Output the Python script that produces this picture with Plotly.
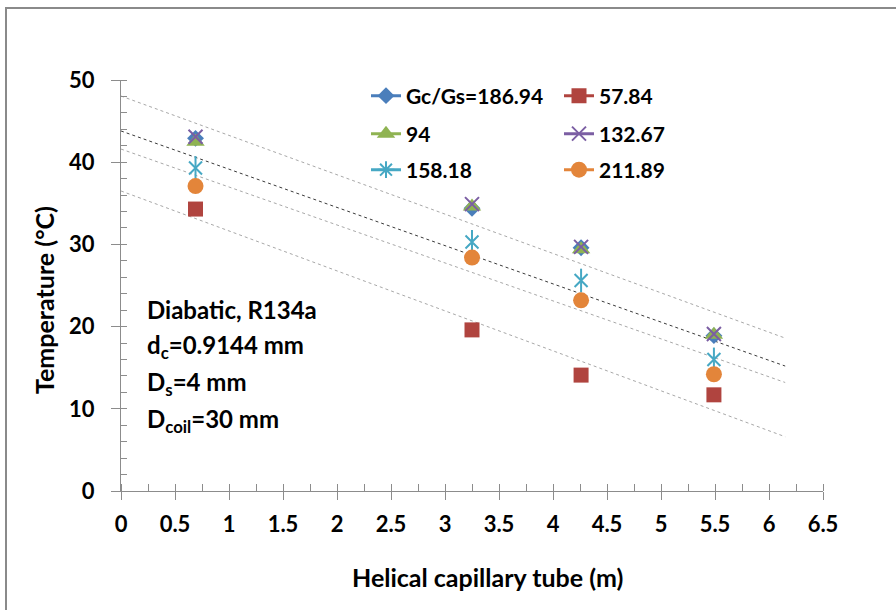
import plotly.graph_objects as go

# Capillary length positions of the measuring points (m)
length_m = [0.69, 3.25, 4.26, 5.49]

# Measured temperatures (°C) for each Gc/Gs ratio
t_186_94 = [42.9, 34.4, 29.6, 18.9]
t_57_84 = [34.3, 19.6, 14.1, 11.7]
t_94 = [42.5, 34.6, 29.4, 19.0]
t_132_67 = [43.1, 34.9, 29.7, 19.1]
t_158_18 = [39.3, 30.3, 25.6, 16.0]
t_211_89 = [37.1, 28.4, 23.2, 14.2]

series_names = ["Gc/Gs=186.94", "57.84", "94", "132.67", "158.18", "211.89"]

# Straight reference lines (start / end values)
fit_x = [0, 6.15]
fit_upper = [48.05, 18.6]
fit_center = [43.8, 15.2]
fit_mid = [41.6, 13.2]
fit_lower = [36.5, 6.6]

FONT = "Lato, 'Open Sans', sans-serif"
FS = 21
AXIS_GREY = "#8c8c8c"

C_BLUE = "#4A7EBB"
C_RED = "#B0443F"
C_GREEN = "#8FB352"
C_PURPLE = "#7B5EA3"
C_AQUA = "#46A8C4"
C_ORANGE = "#E3853A"


def bold(size):
    return dict(family=FONT, size=size, color="black", weight="bold")


fig = go.Figure()

# reference lines
for yy, col in [(fit_upper, "#a8a8a8"), (fit_center, "#3a3a3a"),
                (fit_mid, "#a8a8a8"), (fit_lower, "#a8a8a8")]:
    fig.add_trace(go.Scatter(x=fit_x, y=yy, mode="lines", showlegend=False,
                             hoverinfo="skip",
                             line=dict(color=col, width=1, dash="dot")))

series = [
    (t_186_94, C_BLUE, dict(symbol="diamond", size=13, color=C_BLUE)),
    (t_57_84, C_RED, dict(symbol="square", size=15, color=C_RED)),
    (t_94, C_GREEN, dict(symbol="triangle-up", size=16, color=C_GREEN)),
    (t_132_67, C_PURPLE, dict(symbol="x-thin", size=14, color=C_PURPLE,
                              line=dict(color=C_PURPLE, width=2))),
    (t_158_18, C_AQUA, dict(symbol="x-thin", size=13, color=C_AQUA,
                            line=dict(color=C_AQUA, width=2))),
    (t_211_89, C_ORANGE, dict(symbol="circle", size=16, color=C_ORANGE)),
]

legend_ids = ["legend", "legend", "legend2", "legend2", "legend3", "legend3"]

for i, (vals, col, mk) in enumerate(series):
    fig.add_trace(go.Scatter(x=length_m, y=vals, mode="markers", name=series_names[i],
                             marker=mk, showlegend=False))
    if i == 4:
        # vertical stroke completing the star marker
        fig.add_trace(go.Scatter(x=length_m, y=vals, mode="markers", showlegend=False,
                                 hoverinfo="skip",
                                 marker=dict(symbol="line-ns", size=17, color=col,
                                             line=dict(color=col, width=2))))

# legend entries (line + marker)
for i, (vals, col, mk) in enumerate(series):
    lmk = dict(mk)
    if i == 4:
        lmk = dict(symbol="asterisk", size=14, color=col, line=dict(color=col, width=2))
    fig.add_trace(go.Scatter(x=[None], y=[None], mode="lines+markers", name=series_names[i],
                             line=dict(color=col, width=3), marker=lmk,
                             legend=legend_ids[i]))

legend_common = dict(orientation="h", xref="container", yref="container",
                     xanchor="left", yanchor="middle", bgcolor="rgba(0,0,0,0)",
                     font=bold(FS), entrywidth=148, entrywidthmode="pixels",
                     itemwidth=30, tracegroupgap=0)

fig.update_layout(
    width=896, height=610,
    margin=dict(l=121, r=73, t=80, b=119, autoexpand=False),
    plot_bgcolor="white", paper_bgcolor="white",
    font=bold(FS),
    legend=dict(legend_common, x=366 / 896, y=1 - 96 / 610),
    legend2=dict(legend_common, x=366 / 896, y=1 - 134 / 610),
    legend3=dict(legend_common, x=366 / 896, y=1 - 170 / 610),
    xaxis=dict(range=[0, 6.5], dtick=0.5, tick0=0, showgrid=False, zeroline=False,
               showline=True, linecolor=AXIS_GREY, linewidth=1,
               ticks="outside", ticklen=8, tickcolor=AXIS_GREY, tickwidth=1,
               minor=dict(ticks="inside", dtick=0.25, ticklen=7, tickcolor=AXIS_GREY,
                          showgrid=False),
               ticklabelstandoff=6, tickfont=bold(22)),
    yaxis=dict(range=[0, 50], dtick=10, tick0=0, showgrid=False, zeroline=False,
               showline=True, linecolor=AXIS_GREY, linewidth=1,
               ticks="outside", ticklen=9, tickcolor=AXIS_GREY, tickwidth=1,
               minor=dict(ticks="inside", dtick=2, ticklen=6, tickcolor=AXIS_GREY,
                          showgrid=False),
               ticklabelstandoff=12, tickfont=bold(22)),
    xaxis2=dict(overlaying="x", anchor="y", range=[0, 6.5], dtick=0.5, tick0=0,
                showgrid=False, zeroline=False, showline=False, showticklabels=False,
                ticks="inside", ticklen=7, tickcolor=AXIS_GREY),
    yaxis2=dict(overlaying="y", anchor="x", side="left", range=[0, 50], dtick=10, tick0=0,
                showgrid=False, zeroline=False, showline=False, showticklabels=False,
                ticks="inside", ticklen=6, tickcolor=AXIS_GREY),
)

# outer chart frame
fig.add_shape(type="rect", xref="paper", yref="paper",
              x0=(6 - 121) / 702, x1=2, y0=-1, y1=1 + (80 - 8) / 411,
              line=dict(color="#8a8a8a", width=2), fillcolor="rgba(0,0,0,0)", layer="below")

# axis titles
fig.add_annotation(text="Helical capillary tube (m)", xref="paper", yref="paper",
                   x=(487 - 121) / 702, y=(491 - 577) / 411,
                   xanchor="center", yanchor="middle", showarrow=False, font=bold(25))
fig.add_annotation(text="Temperature (°C)", xref="paper", yref="paper",
                   x=(44 - 121) / 702, y=(491 - 300) / 411, textangle=-90,
                   xanchor="center", yanchor="middle", showarrow=False, font=bold(25))

# test conditions text
info_lines = ["Diabatic, R134a", "d<sub>c</sub>=0.9144 mm", "D<sub>s</sub>=4 mm",
              "D<sub>coil</sub>=30 mm"]
for k, txt in enumerate(info_lines):
    py = 309 + 37 * k
    fig.add_annotation(text=txt, xref="paper", yref="paper",
                       x=(145 - 121) / 702, y=(491 - py) / 411,
                       xanchor="left", yanchor="middle", showarrow=False,
                       font=bold(24))

fig.write_html("out.html")
